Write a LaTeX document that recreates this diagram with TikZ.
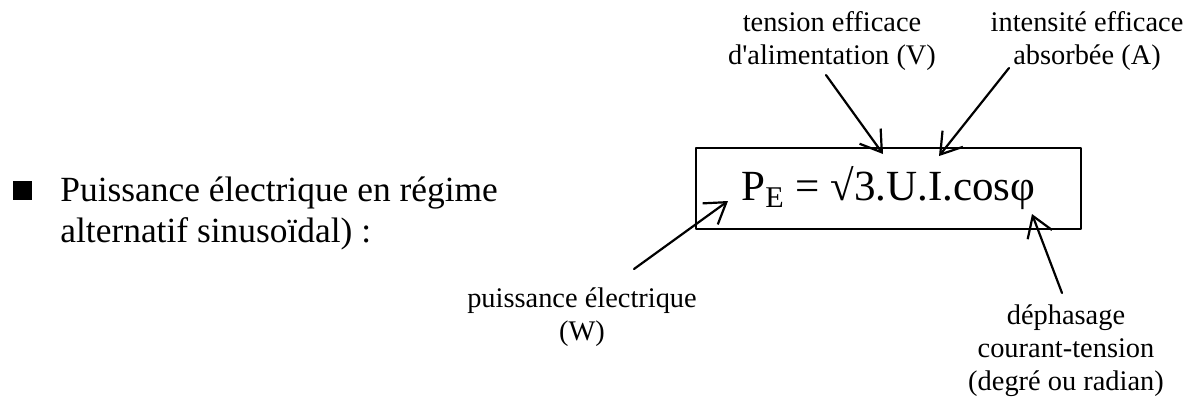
\documentclass[tikz,border=0pt]{standalone}
\usepackage{fontspec}
\setmainfont{Liberation Serif}
\usetikzlibrary{arrows.meta}
\definecolor{ink}{HTML}{000000}

\tikzset{
  lbl/.style={align=center,inner sep=0pt,font=\fontsize{14.2}{16.5}\selectfont},
  ptr/.style={-{Straight Barb[length=10pt,width=13pt]},line width=1.1pt},
}

\begin{document}
\begin{tikzpicture}[x=0.5pt,y=-0.5pt,line cap=round,line join=round]
  \useasboundingbox (0,0) rectangle (1189,398);

  \node[fill=ink,minimum size=9.5pt,inner sep=0pt] (puce) at (22,190) {};
  \node[anchor=base west,align=left,inner sep=0pt,
        font=\fontsize{17.7}{20.5}\selectfont] (intro) at (60,242)
    {Puissance électrique en régime\\alternatif sinusoïdal) :};

  \node[draw=ink,line width=1pt,minimum width=192.5pt,minimum height=40.5pt,
        inner sep=0pt,font=\fontsize{21.5}{24}\selectfont] (formule) at (888.5,188.5)
    {P\textsubscript{E} = √3.U.I.cosφ};

  \node[lbl,anchor=base] (tension) at (832,64) {tension efficace\\d\textquotesingle alimentation (V)};
  \node[lbl,anchor=base] (intensite) at (1087,64) {intensité efficace\\absorbée (A)};
  \node[lbl,anchor=base] (puissance) at (582,340) {puissance électrique\\(W)};
  \node[lbl,anchor=base] (dephasage) at (1066,390) {déphasage\\courant-tension\\(degré ou radian)};

  % pointe des fleches
  \coordinate (tU) at (826,75);   \coordinate (hU) at (883,154);
  \coordinate (tI) at (1009,68);  \coordinate (hI) at (939,156);
  \coordinate (tP) at (634,269);  \coordinate (hP) at (728,201);
  \coordinate (tF) at (1062,293); \coordinate (hF) at (1032,214);

  \draw[ptr] (tU) -- (hU);
  \draw[ptr] (tI) -- (hI);
  \draw[ptr] (tP) -- (hP);
  \draw[ptr] (tF) -- (hF);

\end{tikzpicture}
\end{document}
